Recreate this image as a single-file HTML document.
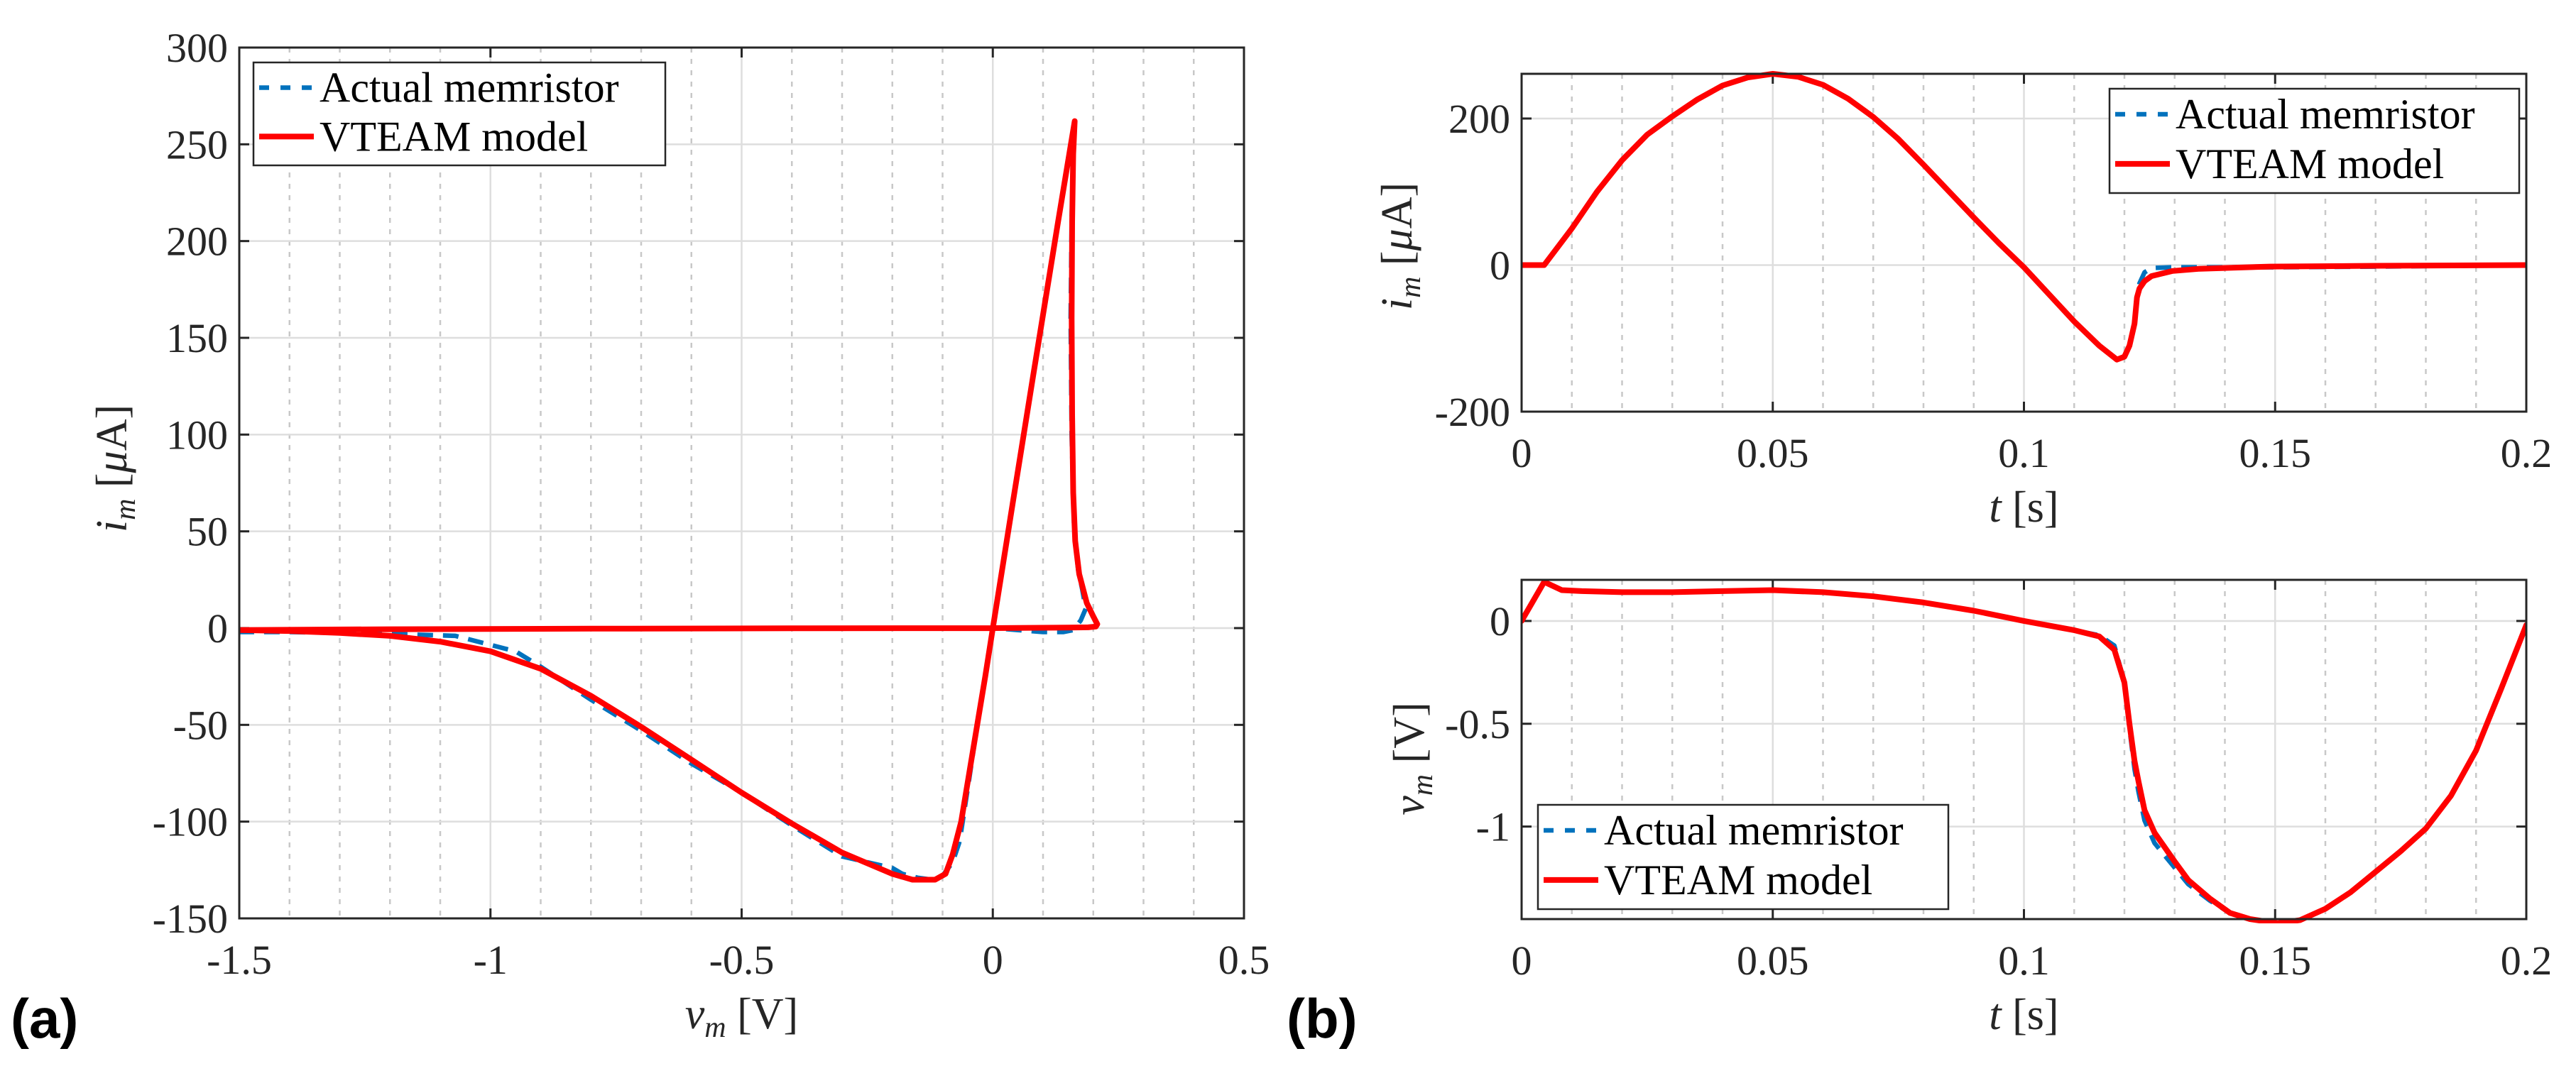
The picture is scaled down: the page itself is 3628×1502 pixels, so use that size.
<!DOCTYPE html>
<html><head><meta charset="utf-8"><style>
html,body{margin:0;padding:0;background:#fff;}
svg{display:block;font-family:"Liberation Serif",serif;}
</style></head><body>
<svg id="fig" width="3628" height="1502" viewBox="0 0 3628 1502" xmlns="http://www.w3.org/2000/svg">
<rect x="0" y="0" width="3628" height="1502" fill="#fff"/>
<g id="layer"></g>
</svg>
<script>
// ---- Panel (a): i-v hysteresis ----
const ivRedV = [-1.5,-1.2,-0.8,-0.4,0,0.1,0.15,0.19,0.205,0.208,0.2,0.187,0.172,0.164,0.16,0.158,0.157,0.158,0.16,0.163,0.13,0.08,0.04,0,-0.015,-0.031,-0.047,-0.063,-0.08,-0.094,-0.115,-0.138,-0.16,-0.2,-0.3,-0.4,-0.5,-0.6,-0.7,-0.8,-0.9,-1.0,-1.1,-1.2,-1.3,-1.4,-1.5];
const ivRedI = [-1,-0.6,-0.3,-0.1,0,0.2,0.3,0.4,0.8,2,6,13,28,45,70,110,160,210,245,262,210,130,65,0,-25,-50,-75,-100,-117,-127,-130,-130,-130,-127,-116,-101,-85,-68,-51,-35,-21,-12,-7,-4,-2.5,-1.5,-1];
const ivBlueV = [-1.5,-1.2,-0.8,-0.4,0,0.05,0.1,0.14,0.16,0.175,0.185,0.178,0.17,0.162,0.157,0.155,0.157,0.16,0.163,0.13,0.08,0.04,0,-0.015,-0.031,-0.047,-0.063,-0.067,-0.08,-0.1,-0.12,-0.15,-0.18,-0.2,-0.3,-0.4,-0.5,-0.6,-0.7,-0.8,-0.9,-0.95,-1.07,-1.2,-1.3,-1.4,-1.5];
const ivBlueI = [-1,-0.6,-0.3,-0.1,0,-1,-2,-2,-1,4,10,20,30,50,100,160,210,245,260,210,130,65,0,-25,-50,-78,-105,-111,-121,-128,-130,-129,-127,-124,-118,-102,-85,-70,-53,-37,-20,-12,-4,-3,-2.5,-2,-2];
const ivXTicks = [-1.5,-1,-0.5,0,0.5];
const ivXTickLabels = ["-1.5","-1","-0.5","0","0.5"];
const ivYTicks = [-150,-100,-50,0,50,100,150,200,250,300];
const ivYTickLabels = ["-150","-100","-50","0","50","100","150","200","250","300"];

// ---- Panel (b) top: i(t) ----
const itT = [0,0.0045,0.01,0.015,0.02,0.025,0.03,0.035,0.04,0.045,0.05,0.055,0.06,0.065,0.07,0.075,0.08,0.085,0.09,0.095,0.1,0.105,0.11,0.115,0.1185,0.12,0.121,0.122,0.1225,0.123,0.124,0.1254,0.1296,0.135,0.149,0.17,0.2];
const itRed = [0,0,50,100,143,178,203,226,245,256,261,257,246,227,202,172,137,101,65,30,-3,-40,-77,-110,-129,-125,-110,-80,-44,-32,-22,-15,-8,-5,-2,-1,0];
const itBlue = [0,0,50,100,143,178,203,226,245,256,261,257,246,227,202,172,137,101,65,30,-3,-40,-77,-110,-129,-125,-110,-80,-44,-25,-10,-4,-3,-3,-3,-2,0];
const itXTicks = [0,0.05,0.1,0.15,0.2];
const itXTickLabels = ["0","0.05","0.1","0.15","0.2"];
const itYTicks = [-200,0,200];
const itYTickLabels = ["-200","0","200"];

// ---- Panel (b) bottom: v(t) ----
const vtT = [0,0.0045,0.008,0.012,0.02,0.03,0.04,0.05,0.06,0.07,0.08,0.09,0.1,0.11,0.115,0.118,0.12,0.121,0.122,0.1228,0.124,0.126,0.13,0.1327,0.137,0.141,0.145,0.1505,0.155,0.16,0.165,0.17,0.175,0.18,0.185,0.19,0.195,0.2];
const vtRed = [0,0.19,0.15,0.145,0.14,0.14,0.145,0.15,0.14,0.12,0.09,0.05,0.0,-0.045,-0.075,-0.14,-0.3,-0.5,-0.68,-0.78,-0.92,-1.03,-1.17,-1.26,-1.35,-1.42,-1.45,-1.47,-1.455,-1.40,-1.32,-1.22,-1.12,-1.01,-0.85,-0.63,-0.33,-0.02];
const vtBlue = [0,0.19,0.15,0.145,0.14,0.14,0.145,0.15,0.14,0.12,0.09,0.05,0.0,-0.045,-0.07,-0.12,-0.3,-0.52,-0.72,-0.83,-0.97,-1.08,-1.2,-1.28,-1.36,-1.42,-1.45,-1.47,-1.455,-1.40,-1.32,-1.22,-1.12,-1.01,-0.85,-0.63,-0.33,-0.02];
const vtXTicks = [0,0.05,0.1,0.15,0.2];
const vtXTickLabels = ["0","0.05","0.1","0.15","0.2"];
const vtYTicks = [-1,-0.5,0];
const vtYTickLabels = ["-1","-0.5","0"];

const NS = "http://www.w3.org/2000/svg";
const layer = document.getElementById('layer');
function mk(tag, attrs, parent){
  const e = document.createElementNS(NS, tag);
  for (const k in attrs) e.setAttribute(k, attrs[k]);
  (parent||layer).appendChild(e);
  return e;
}
function axisFn(d0,d1,p0,p1){ return v => p0 + (v-d0)*(p1-p0)/(d1-d0); }

function panel(cfg){
  const g = mk('g', {});
  
  
  const X = axisFn(cfg.xd[0],cfg.xd[1],cfg.L,cfg.R);
  const Y = axisFn(cfg.yd[0],cfg.yd[1],cfg.B,cfg.T);
  const nMinor = Math.round((cfg.xd[1]-cfg.xd[0])/cfg.minor);
  for (let k = 0; k <= nMinor; k++){
    const v = cfg.xd[0] + k*cfg.minor;
    const isMajor = cfg.xt.some(t=>Math.abs(t-v)<1e-9);
    if (isMajor) continue;
    const l = mk('line',{x1:X(v),x2:X(v),y1:cfg.T,y2:cfg.B,stroke:'#c8c8c8','stroke-width':2.5,'stroke-dasharray':'7 9'},g);
    
    
  }
  cfg.xt.forEach((v,i)=>{
    const l = mk('line',{x1:X(v),x2:X(v),y1:cfg.T,y2:cfg.B,stroke:'#dedede','stroke-width':2.5},g);
    
    
    mk('line',{x1:X(v),x2:X(v),y1:cfg.B,y2:cfg.B-14,stroke:'#262626','stroke-width':3},g);
    mk('line',{x1:X(v),x2:X(v),y1:cfg.T,y2:cfg.T+14,stroke:'#262626','stroke-width':3},g);
    const t = mk('text',{x:X(v),y:cfg.B+78,'font-size':58,'text-anchor':'middle',fill:'#262626'},g);
    t.textContent = cfg.xtl[i];
    
    
  });
  cfg.yt.forEach((v,i)=>{
    const l = mk('line',{x1:cfg.L,x2:cfg.R,y1:Y(v),y2:Y(v),stroke:'#dedede','stroke-width':2.5},g);
    
    
    mk('line',{x1:cfg.L,x2:cfg.L+14,y1:Y(v),y2:Y(v),stroke:'#262626','stroke-width':3},g);
    mk('line',{x1:cfg.R,x2:cfg.R-14,y1:Y(v),y2:Y(v),stroke:'#262626','stroke-width':3},g);
    const t = mk('text',{x:cfg.L-16,y:Y(v)+20,'font-size':58,'text-anchor':'end',fill:'#262626'},g);
    t.textContent = cfg.ytl[i];
    
    
  });
  const clipId = 'c'+cfg.name;
  const cp = mk('clipPath',{id:clipId},g);
  mk('rect',{x:cfg.L,y:cfg.T-6,width:cfg.R-cfg.L,height:cfg.B-cfg.T+12},cp);
  function series(xs,ys,color,dash,name){
    const pts = xs.map((x,i)=>X(x).toFixed(1)+','+Y(ys[i]).toFixed(1)).join(' ');
    const p = mk('polyline',{points:pts,fill:'none',stroke:color,'stroke-width':dash?6.5:8,'stroke-linejoin':'round','stroke-linecap':dash?'butt':'round','clip-path':'url(#'+clipId+')'},g);
    if (dash) p.setAttribute('stroke-dasharray','22 14');
    
    
  }
  series(cfg.bx,cfg.by,'#0072bd',true,'actual-memristor-line');
  series(cfg.rx,cfg.ry,'#ff0000',false,'vteam-model-line');
  const frame = mk('rect',{x:cfg.L,y:cfg.T,width:cfg.R-cfg.L,height:cfg.B-cfg.T,fill:'none',stroke:'#262626','stroke-width':3},g);
  
  
  const lg = mk('g',{},g);
  
  
  const [lx,ly,lw,lh] = cfg.leg;
  mk('rect',{x:lx,y:ly,width:lw,height:lh,fill:'#fff',stroke:'#262626','stroke-width':2.5},lg);
  const r1 = ly+lh*0.245, r2 = ly+lh*0.72;
  mk('line',{x1:lx+8,x2:lx+85,y1:r1,y2:r1,stroke:'#0072bd','stroke-width':6.5,'stroke-dasharray':'14 16'},lg);
  mk('line',{x1:lx+8,x2:lx+85,y1:r2,y2:r2,stroke:'#ff0000','stroke-width':8},lg);
  const t1 = mk('text',{x:lx+93,y:r1+20,'font-size':60,fill:'#000'},lg); t1.textContent='Actual memristor';
  
  
  const t2 = mk('text',{x:lx+93,y:r2+20,'font-size':60,fill:'#000'},lg); t2.textContent='VTEAM model';
  
  
  const xl = mk('text',{x:(cfg.L+cfg.R)/2,y:cfg.B+155,'font-size':62,'text-anchor':'middle',fill:'#262626'},g);
  xl.innerHTML = cfg.xlab;
  
  
  const yl = mk('text',{x:0,y:0,'font-size':62,'text-anchor':'middle',fill:'#262626',transform:'translate('+cfg.ylx+','+cfg.yly+') rotate(-90)'},g);
  yl.innerHTML = cfg.ylab;
  
  
}

panel({name:'iv-panel',L:337,R:1752,T:67,B:1294,xd:[-1.5,0.5],yd:[-150,300],minor:0.1,
  xt:ivXTicks,xtl:ivXTickLabels,yt:ivYTicks,ytl:ivYTickLabels,
  rx:ivRedV,ry:ivRedI,bx:ivBlueV,by:ivBlueI,leg:[357,88,580,145],
  xlab:'<tspan font-style="italic">v</tspan><tspan font-style="italic" font-size="42" dy="12">m</tspan><tspan dy="-12"> [V]</tspan>',
  ylab:'<tspan font-style="italic">i</tspan><tspan font-style="italic" font-size="42" dy="12">m</tspan><tspan dy="-12">  [</tspan><tspan font-style="italic">μ</tspan>A]',
  ylx:178,yly:660});
panel({name:'it-panel',L:2143,R:3558,T:104,B:580,xd:[0,0.2],yd:[-200,261],minor:0.01,
  xt:itXTicks,xtl:itXTickLabels,yt:itYTicks,ytl:itYTickLabels,
  rx:itT,ry:itRed,bx:itT,by:itBlue,leg:[2971,125,577,147],
  xlab:'<tspan font-style="italic">t</tspan> [s]',
  ylab:'<tspan font-style="italic">i</tspan><tspan font-style="italic" font-size="42" dy="12">m</tspan><tspan dy="-12">  [</tspan><tspan font-style="italic">μ</tspan>A]',
  ylx:1988,yly:347});
panel({name:'vt-panel',L:2143,R:3558,T:817,B:1295,xd:[0,0.2],yd:[-1.45,0.2],minor:0.01,
  xt:vtXTicks,xtl:vtXTickLabels,yt:vtYTicks,ytl:vtYTickLabels,
  rx:vtT,ry:vtRed,bx:vtT,by:vtBlue,leg:[2166,1134,578,147],
  xlab:'<tspan font-style="italic">t</tspan> [s]',
  ylab:'<tspan font-style="italic">v</tspan><tspan font-style="italic" font-size="42" dy="12">m</tspan><tspan dy="-12">  [V]</tspan>',
  ylx:2005,yly:1069});

const pa = mk('text',{x:15,y:1462,'font-size':78,'font-weight':'bold','font-family':'"Liberation Sans",sans-serif',fill:'#000'});
pa.textContent='(a)';


const pb = mk('text',{x:1812,y:1462,'font-size':78,'font-weight':'bold','font-family':'"Liberation Sans",sans-serif',fill:'#000'});
pb.textContent='(b)';


</script>
</body></html>
